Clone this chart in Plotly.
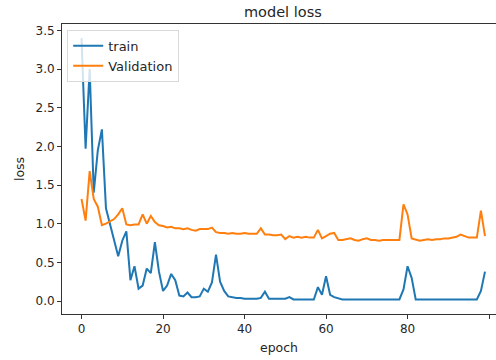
import plotly.graph_objects as go

epochs = list(range(100))

train_loss = [
    3.40, 1.97, 3.00, 1.40, 1.95, 2.22, 1.20, 1.00, 0.80, 0.58,
    0.78, 0.90, 0.27, 0.45, 0.16, 0.20, 0.42, 0.36, 0.76, 0.38,
    0.13, 0.20, 0.35, 0.27, 0.07, 0.06, 0.11, 0.05, 0.05, 0.06,
    0.16, 0.12, 0.24, 0.60, 0.25, 0.13, 0.06, 0.05, 0.04, 0.04,
    0.03, 0.03, 0.03, 0.03, 0.04, 0.12, 0.03, 0.03, 0.03, 0.03,
    0.03, 0.05, 0.02, 0.02, 0.02, 0.02, 0.02, 0.02, 0.18, 0.08,
    0.32, 0.08, 0.05, 0.03, 0.02, 0.02, 0.02, 0.02, 0.02, 0.02,
    0.02, 0.02, 0.02, 0.02, 0.02, 0.02, 0.02, 0.02, 0.02, 0.15,
    0.45, 0.30, 0.02, 0.02, 0.02, 0.02, 0.02, 0.02, 0.02, 0.02,
    0.02, 0.02, 0.02, 0.02, 0.02, 0.02, 0.02, 0.02, 0.13, 0.38,
]

val_loss = [
    1.32, 1.04, 1.68, 1.32, 1.22, 0.98, 1.00, 1.03, 1.06, 1.12,
    1.20, 0.99, 0.98, 0.99, 0.99, 1.12, 1.00, 1.10, 1.02, 0.98,
    0.97, 0.95, 0.96, 0.94, 0.94, 0.93, 0.94, 0.92, 0.91, 0.93,
    0.93, 0.93, 0.95, 0.89, 0.88, 0.88, 0.87, 0.88, 0.87, 0.87,
    0.88, 0.87, 0.87, 0.87, 0.94, 0.86, 0.86, 0.85, 0.85, 0.86,
    0.80, 0.84, 0.82, 0.83, 0.82, 0.83, 0.82, 0.82, 0.92, 0.81,
    0.84, 0.87, 0.88, 0.79, 0.79, 0.80, 0.81, 0.79, 0.78, 0.80,
    0.81, 0.79, 0.79, 0.78, 0.79, 0.79, 0.79, 0.79, 0.79, 1.25,
    1.12, 0.81, 0.79, 0.78, 0.79, 0.80, 0.79, 0.80, 0.80, 0.81,
    0.81, 0.82, 0.83, 0.86, 0.84, 0.82, 0.82, 0.82, 1.17, 0.84,
]

x_ticks = [0, 20, 40, 60, 80, 100]
y_ticks = [0.0, 0.5, 1.0, 1.5, 2.0, 2.5, 3.0, 3.5]

FONT = "DejaVu Sans"
TXT = "#262626"

fig = go.Figure()
fig.add_trace(go.Scatter(x=epochs, y=train_loss, mode="lines", name="train",
                         line=dict(color="#1f77b4", width=2)))
fig.add_trace(go.Scatter(x=epochs, y=val_loss, mode="lines", name="Validation",
                         line=dict(color="#ff7f0e", width=2)))

fig.update_layout(
    width=496, height=360,
    margin=dict(l=62, r=0, t=24, b=46),
    paper_bgcolor="white", plot_bgcolor="white",
    font=dict(family=FONT, size=12, color=TXT),
    title=dict(text="model loss", x=0.509, xanchor="center", xref="paper",
               y=0.966, yanchor="middle", font=dict(size=14.5, color=TXT)),
    legend=dict(x=0.012, y=0.98, xanchor="left", yanchor="top",
                bgcolor="rgba(255,255,255,0.8)", bordercolor="#d9d9d9", borderwidth=1,
                font=dict(size=13, color=TXT), tracegroupgap=0),
    showlegend=True,
)

fig.update_xaxes(
    range=[-4.79, 101.7], tickvals=x_ticks, ticktext=[str(v) for v in x_ticks],
    showgrid=False, zeroline=False, showline=True, linecolor="#333", linewidth=1,
    mirror=True, ticks="outside", ticklen=4, tickcolor="#333",
    tickfont=dict(size=12),
    title=dict(text="epoch", standoff=7, font=dict(size=12.5, color=TXT)),
)
fig.update_yaxes(
    range=[-0.168, 3.583], tickvals=y_ticks, ticktext=[f"{v:.1f}" for v in y_ticks],
    showgrid=False, zeroline=False, showline=True, linecolor="#333", linewidth=1,
    ticks="outside", ticklen=4, tickcolor="#333",
    tickfont=dict(size=12),
    title=dict(text="loss", standoff=8, font=dict(size=12.5, color=TXT)),
)

fig.write_html("out.html")
